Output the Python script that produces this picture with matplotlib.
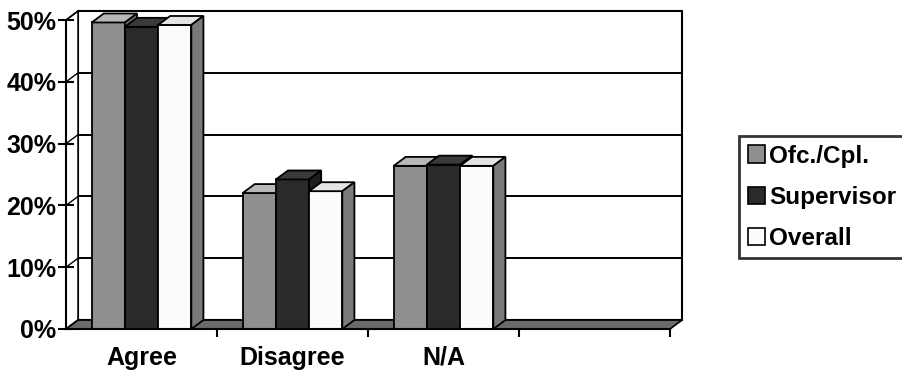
import matplotlib
matplotlib.use("Agg")
import matplotlib.pyplot as plt
from matplotlib.patches import Polygon, Rectangle, Patch

# ---- data ----
categories = ["Agree", "Disagree", "N/A"]
series_names = ["Ofc./Cpl.", "Supervisor", "Overall"]
ofc_cpl = [49.6, 22.0, 26.4]
supervisor = [48.9, 24.2, 26.6]
overall = [49.2, 22.3, 26.4]
y_ticks = [0, 10, 20, 30, 40, 50]
n_slots = 4  # the chart reserves an empty fourth category slot

series = [ofc_cpl, supervisor, overall]
front_cols = ["#8f8f8f", "#2a2a2a", "#fbfbfb"]
top_cols = ["#b8b8b8", "#3a3a3a", "#e4e4e4"]
side_cols = ["#6e6e6e", "#1e1e1e", "#7a7a7a"]

plt.rcParams["font.family"] = ["Liberation Sans", "DejaVu Sans"]
plt.rcParams["font.weight"] = "bold"

fig = plt.figure(figsize=(9.02, 3.70), dpi=100)
W, H = 902, 370
ax = fig.add_axes([66 / W, (H - 329) / H, (670 - 66) / W, (329 - 20) / H])
xmin, xmax = -0.5, n_slots - 0.5
ax.set_xlim(xmin, xmax)
ax.set_ylim(0, 50)

dx, dy = 0.08, 1.45  # depth offset (data units)
lw = 1.3

# back wall
ax.add_patch(Rectangle((xmin + dx, dy), xmax - xmin, 50, fc="white", ec="black",
                       lw=1.5, zorder=0.5, clip_on=False))
# gridlines on back wall and left wall
for v in y_ticks[1:-1]:
    ax.plot([xmin + dx, xmax + dx], [v + dy, v + dy], color="black", lw=1.4,
            zorder=0.6, clip_on=False)
# left wall
ax.add_patch(Polygon([(xmin, 0), (xmin + dx, dy), (xmin + dx, 50 + dy), (xmin, 50)],
                     closed=True, fc="white", ec="black", lw=1.2, zorder=0.7, clip_on=False))
for v in y_ticks:
    ax.plot([xmin, xmin + dx], [v, v + dy], color="black", lw=1.0, zorder=0.8, clip_on=False)
# floor
ax.add_patch(Polygon([(xmin, 0), (xmax, 0), (xmax + dx, dy), (xmin + dx, dy)],
                     closed=True, fc="#6a6a6a", ec="black", lw=1.2, zorder=0.9, clip_on=False))

# bars
bw = 0.22
z = 2
for i in range(len(categories)):
    for j, vals in enumerate(series):
        xc = i + (j - 1) * bw
        x0 = xc - bw / 2
        h = vals[i]
        ax.bar(xc, h, width=bw, color=front_cols[j], edgecolor="black", linewidth=lw,
               zorder=z, clip_on=False)
        ax.add_patch(Polygon([(x0, h), (x0 + bw, h), (x0 + bw + dx, h + dy), (x0 + dx, h + dy)],
                             closed=True, fc=top_cols[j], ec="black", lw=lw, zorder=z + 0.1,
                             clip_on=False))
        ax.add_patch(Polygon([(x0 + bw, 0), (x0 + bw + dx, dy), (x0 + bw + dx, h + dy), (x0 + bw, h)],
                             closed=True, fc=side_cols[j], ec="black", lw=lw, zorder=z + 0.1,
                             clip_on=False))
        z += 1

# axes styling
for s in ["top", "right"]:
    ax.spines[s].set_visible(False)
ax.spines["left"].set_linewidth(1.5)
ax.spines["bottom"].set_linewidth(1.5)
ax.spines["left"].set_zorder(50)
ax.spines["bottom"].set_zorder(50)
ax.set_yticks(y_ticks)
ax.set_yticklabels([f"{v}%" for v in y_ticks], fontsize=18, fontweight="bold")
ax.tick_params(axis="y", direction="inout", length=12, width=1.5, pad=1)
ax.set_xticks(range(len(categories)))
ax.set_xticklabels(categories, fontsize=18, fontweight="bold")
ax.tick_params(axis="x", which="major", length=0, pad=12)
ax.set_xticks([k + 0.5 for k in range(n_slots)], minor=True)
ax.tick_params(axis="x", which="minor", direction="out", length=6, width=1.5)
ax.set_facecolor("none")

# legend
handles = [Patch(facecolor=front_cols[j], edgecolor="black", linewidth=1.2, label=series_names[j])
           for j in range(3)]
leg = fig.legend(handles=handles, loc="upper left", bbox_to_anchor=(739 / W, (H - 136) / H),
                 frameon=True, fancybox=False, edgecolor="black",
                 prop={"weight": "bold", "size": 17.5}, handlelength=0.7, handleheight=0.7,
                 handletextpad=0.2, borderpad=0.35, labelspacing=0.75, borderaxespad=0)
leg.get_frame().set_linewidth(2)

fig.savefig("out.png", dpi=100)
